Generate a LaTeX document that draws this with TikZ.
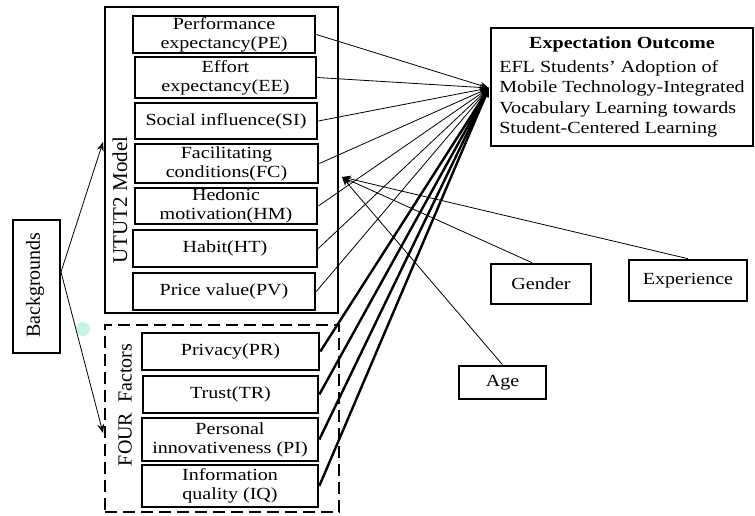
\documentclass[tikz,border=0pt]{standalone}
\usepackage{fontspec}
\setmainfont{Liberation Serif}
\newfontfamily\widefont[FakeStretch=1.18]{Liberation Serif}
\usetikzlibrary{arrows.meta}
\definecolor{dotcol}{RGB}{200,243,233}
\begin{document}
\begin{tikzpicture}[x=1pt,y=-1pt,
  box/.style={draw, line width=2.6pt, inner sep=0pt, align=center,
    font=\widefont\fontsize{17}{19}\selectfont},
  frame/.style={draw, line width=2.2pt, inner sep=0pt},
  rlabel/.style={rotate=90, inner sep=0pt, font=\fontsize{20}{22}\selectfont},
  thinarrow/.style={line width=0.8pt, -{Stealth[length=9pt,width=7pt]}},
  thickarrow/.style={line width=2.4pt, -{Stealth[length=9pt,width=7pt]}}]
\useasboundingbox[fill=white] (0,0) rectangle (755,516);

% outer frames
\node[frame, minimum width=233pt, minimum height=306pt] (utut) at (221.5,160) {};
\node[frame, dash pattern=on 12pt off 6pt, minimum width=234pt, minimum height=187pt] (four) at (222,418.5) {};
\node[rlabel, font=\fontsize{21}{22}\selectfont] (ututlab) at (120,200) {UTUT2 Model};
\node[rlabel] (fourlab) at (125,405) {FOUR\ \ Factors};

% UTUT2 constructs
\node[box, minimum width=182pt, minimum height=37pt] (pe) at (224,34.5) {Performance\\expectancy(PE)};
\node[box, minimum width=181pt, minimum height=41pt] (ee) at (225.5,77.5) {Effort\\expectancy(EE)};
\node[box, minimum width=182pt, minimum height=36pt] (si) at (226,121) {Social influence(SI)};
\node[box, minimum width=183pt, minimum height=39pt] (fc) at (226.5,163.5) {Facilitating\\conditions(FC)};
\node[box, minimum width=182pt, minimum height=36pt] (hm) at (226,206) {Hedonic\\motivation(HM)};
\node[box, minimum width=184pt, minimum height=37pt] (ht) at (225,248.5) {Habit(HT)};
\node[box, minimum width=182pt, minimum height=37pt] (pv) at (224,291.5) {Price value(PV)};

% four factors
\node[box, minimum width=177pt, minimum height=37pt] (pr) at (230.5,351.5) {Privacy(PR)};
\node[box, minimum width=175pt, minimum height=37pt] (tr) at (230.5,394.5) {Trust(TR)};
\node[box, minimum width=176pt, minimum height=43pt] (pi) at (230,439.5) {Personal\\innovativeness (PI)};
\node[box, minimum width=176pt, minimum height=42pt] (iq) at (230,486) {Information\\quality (IQ)};

% backgrounds
\node[draw, line width=2.6pt, minimum width=47pt, minimum height=133pt, inner sep=0pt] (bg) at (36.5,286.5) {};
\node[rlabel] (bglab) at (35,285) {Backgrounds};

% outcome
\node[box, minimum width=262pt, minimum height=118pt, align=left,
      font=\widefont\fontsize{17}{20.5}\selectfont] (outcome) at (622,87)
  {\begin{tabular}{@{}l@{}}\multicolumn{1}{c}{\bfseries Expectation Outcome}\\[3pt]
   EFL Students’ Adoption of\\ Mobile Technology-Integrated\\ Vocabulary Learning towards\\ Student-Centered Learning\end{tabular}};

% moderators
\node[box, minimum width=100pt, minimum height=40pt] (gender) at (541,284) {Gender};
\node[box, minimum width=118pt, minimum height=41pt] (exper) at (688,280.5) {Experience};
\node[box, minimum width=87pt, minimum height=33pt] (age) at (502.5,382.5) {Age};

% decorative dot
\fill[dotcol] (83,329) circle[radius=7pt];

% coordinates
\coordinate (bgout) at (61,272);
\coordinate (bgup) at (103,142);
\coordinate (bgdn) at (103,433);
\coordinate (modt) at (342,177);
\coordinate (outt) at (489,88);

% connectors
\draw[thinarrow] (bgout) -- (bgup);
\draw[thinarrow] (bgout) -- (bgdn);
\foreach \n in {pe,ee,si,fc,hm,ht,pv}
  \draw[thinarrow] (\n.east) -- (outt);
\foreach \n in {pr,tr,pi,iq}
  \draw[thickarrow] (\n.east) -- (outt);
\draw[thinarrow] ([xshift=-9pt]gender.north) -- (modt);
\draw[thinarrow] (exper.north) -- (modt);
\draw[thinarrow] (age.north) -- (modt);
\end{tikzpicture}
\end{document}
